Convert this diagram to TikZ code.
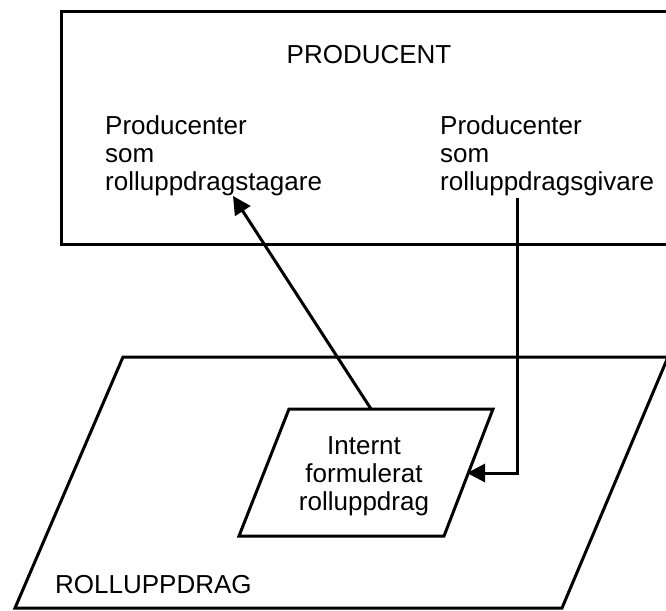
\documentclass[tikz,border=0pt]{standalone}
\usepackage{fontspec}
\setmainfont{Liberation Sans}
\usetikzlibrary{arrows.meta}
\begin{document}
\begin{tikzpicture}[x=1pt,y=-1pt,
  frame/.style={draw=black,line width=3pt,line join=miter},
  label/.style={inner sep=0pt,font=\fontsize{26}{28}\selectfont},
  conn/.style={draw=black,line width=3pt,-{Triangle[length=18pt,width=18pt]}}]
\useasboundingbox (0,0) rectangle (666,610);

% producer box (right side runs past the page edge)
\draw[frame] (61,12) rectangle (690,244);
\node[label] (prod) at (369,55) {PRODUCENT};
\node[label,anchor=west,align=left] (taker) at (105,156) {Producenter\\som\\rolluppdragstagare};
\node[label,anchor=west,align=left] (giver) at (440,156) {Producenter\\som\\rolluppdragsgivare};

% outer role-assignment parallelogram
\coordinate (otl) at (123,357);
\coordinate (otr) at (668,357);
\coordinate (obr) at (562,608);
\coordinate (obl) at (15,608);
\draw[frame] (otl) -- (otr) -- (obr) -- (obl) -- cycle;
\node[label,anchor=west] (roll) at (55,585) {ROLLUPPDRAG};

% inner parallelogram
\coordinate (itl) at (289,409);
\coordinate (itr) at (493,409);
\coordinate (ibr) at (444,536);
\coordinate (ibl) at (239,536);
\draw[frame] (itl) -- (itr) -- (ibr) -- (ibl) -- cycle;
\node[label,align=center] (intern) at (364,476) {Internt\\formulerat\\rolluppdrag};

% connectors
\coordinate (itop) at (371,409);
\coordinate (tagtip) at (233,196);
\coordinate (givfoot) at (517,198);
\coordinate (iright) at (467,473);
\draw[conn] (itop) -- (tagtip);
\draw[conn] (givfoot) |- (iright);
\end{tikzpicture}
\end{document}
